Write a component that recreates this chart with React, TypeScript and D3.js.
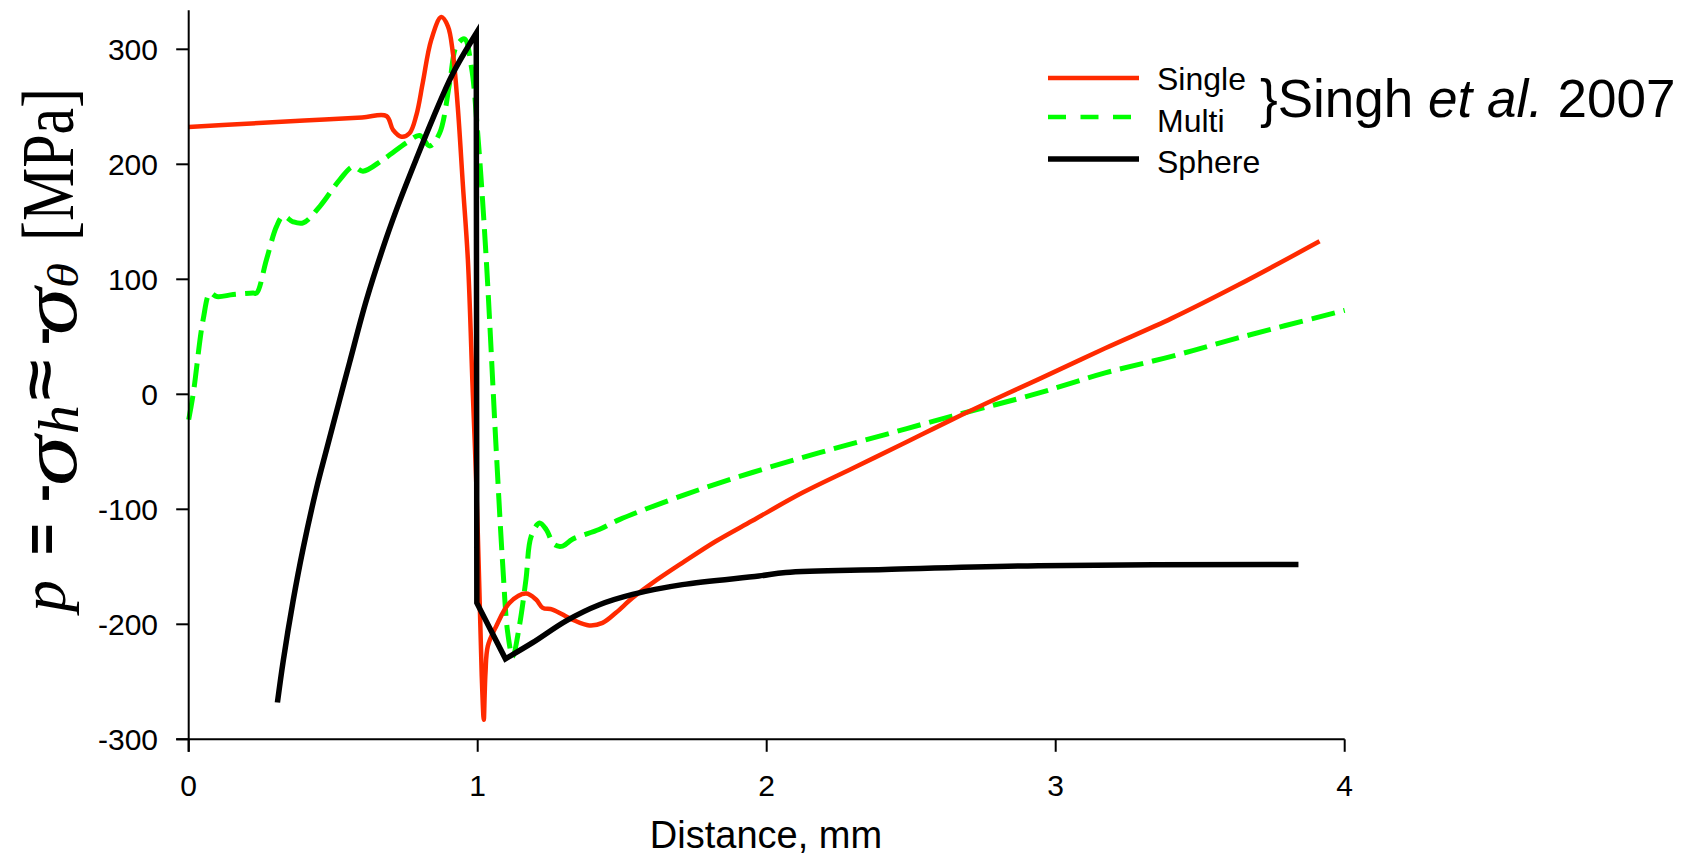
import React from 'react';
import * as d3 from 'd3';

const xTicks = [0, 1, 2, 3, 4];
const yTicks = [-300, -200, -100, 0, 100, 200, 300];
const yTickLabels = ['-300', '-200', '-100', '0', '100', '200', '300'];

const singleX = [0, 0.2, 0.4, 0.6, 0.684, 0.707, 0.736, 0.764, 0.788, 0.81, 0.839, 0.874, 0.897, 0.914, 0.931, 0.949, 0.966, 0.983, 0.995, 1.006, 1.014, 1.021, 1.024, 1.027, 1.035, 1.064, 1.11, 1.167, 1.202, 1.225, 1.259, 1.328, 1.386, 1.432, 1.478, 1.536, 1.605, 1.708, 1.824, 1.95, 2.123, 2.296, 2.468, 2.641, 2.814, 2.94, 3.171, 3.401, 3.631, 3.913];
const singleY = [232.5, 235.3, 238.1, 240.8, 242, 230, 224, 227, 243, 271, 308, 328, 320, 297, 250, 181, 117, 1.5, -77, -172, -245, -283, -262, -242, -219, -201.7, -181.4, -173.3, -178.5, -185.7, -187.2, -196, -201, -198.8, -190, -177, -164, -146.6, -127.8, -110, -85.7, -64.5, -43.5, -22, -1.5, 13, 40, 66, 95, 133];

const multiX = [0, 0.016, 0.05, 0.074, 0.097, 0.154, 0.223, 0.235, 0.269, 0.304, 0.327, 0.361, 0.396, 0.454, 0.523, 0.569, 0.603, 0.672, 0.753, 0.799, 0.834, 0.868, 0.903, 0.926, 0.954, 0.978, 1.0, 1.029, 1.064, 1.087, 1.104, 1.121, 1.144, 1.167, 1.185, 1.214, 1.237, 1.265, 1.294, 1.328, 1.42, 1.49, 1.72, 1.95, 2.18, 2.41, 2.641, 2.94, 3.171, 3.401, 3.631, 4.0];
const multiY = [-22, 1, 65, 88, 85, 86.7, 88, 88, 117, 146, 155, 150, 149, 163.5, 186.7, 198, 194, 204, 218.6, 225, 216, 227, 270.8, 302.6, 309, 285, 227, 120, -48, -150, -207.5, -228, -201.7, -161, -123.5, -112, -117.6, -130.7, -132, -126, -117.6, -109, -87, -68, -51, -35, -19, 1, 18.6, 33, 49, 73];

// Sphere: rising branch, drop at the interface, decaying branch
const sphereRiseX = [0.307, 0.327, 0.361, 0.396, 0.442, 0.477, 0.52, 0.557, 0.615, 0.684, 0.73, 0.788, 0.845, 0.914, 0.995];
const sphereRiseY = [-268, -232, -180, -134, -82, -48, -7, 28, 82, 136, 168, 205, 240, 279, 314];
const sphereDropX = [0.995, 0.997, 1.096];
const sphereDropY = [314, -181.4, -230];
const sphereTailX = [1.096, 1.19, 1.306, 1.421, 1.536, 1.708, 1.973, 2.066, 2.41, 2.94, 3.84];
const sphereTailY = [-230, -216, -197, -183, -174, -165.5, -158, -155, -152.4, -149, -148];

const legendLabels = ['Single', 'Multi', 'Sphere'];
const colors = ['#ff2a00', '#00ff00', '#000000'];

const SANS = 'Liberation Sans, Arial, sans-serif';
const SERIF = 'Liberation Serif, Times New Roman, serif';

type Part = { t: string; y0: number; bx: number; fs: number; fam: string; it?: boolean; bold?: boolean; len?: number };
const labelParts: Part[] = [
  { t: 'p', y0: 612, bx: 65, fs: 64, fam: SERIF, it: true },
  { t: '=', y0: 555, bx: 60, fs: 54, fam: SANS, bold: true },
  { t: '-', y0: 502, bx: 60, fs: 54, fam: SANS, bold: true },
  { t: 'σ', y0: 486, bx: 76, fs: 80, fam: SERIF, it: true, len: 50 },
  { t: 'h', y0: 434, bx: 78, fs: 58, fam: SERIF, it: true, len: 29 },
  { t: '≈', y0: 400, bx: 58, fs: 54, fam: SANS, bold: true, len: 40 },
  { t: '-', y0: 345, bx: 60, fs: 54, fam: SANS, bold: true },
  { t: 'σ', y0: 335, bx: 76, fs: 80, fam: SERIF, it: true, len: 47 },
  { t: 'θ', y0: 288, bx: 78, fs: 44, fam: SERIF, it: true, len: 25 },
  { t: '[MPa]', y0: 241, bx: 73, fs: 74, fam: SERIF, len: 153 },
];

export default function App() {
  const x = d3.scaleLinear().domain([0, 4]).range([188.7, 1344.7]);
  const y = d3.scaleLinear().domain([-300, 300]).range([739.3, 49.3]);
  const yTopVal = 334;

  const toPts = (xs: number[], ys: number[]) => xs.map((v, i) => [v, ys[i]] as [number, number]);
  const smooth = d3.line<[number, number]>().x(d => x(d[0])).y(d => y(d[1])).curve(d3.curveCatmullRom.alpha(0.5));
  const lin = d3.line<[number, number]>().x(d => x(d[0])).y(d => y(d[1]));

  const sphereD = (smooth(toPts(sphereRiseX, sphereRiseY)) || '') +
    (lin(toPts(sphereDropX, sphereDropY)) || '').replace(/^M/, 'L') +
    (smooth(toPts(sphereTailX, sphereTailY)) || '').replace(/^M[^CL]*/, '');

  const x0 = x(0);
  const yBase = y(-300);

  return (
    <svg width={1700} height={860} style={{ position: 'absolute', left: 0, top: 0, background: '#fff' }}>
      {/* series */}
      <path d={smooth(toPts(multiX, multiY)) || ''} fill="none" stroke={colors[1]} strokeWidth={5} strokeDasharray="24 9" />
      <path d={smooth(toPts(singleX, singleY)) || ''} fill="none" stroke={colors[0]} strokeWidth={4.5} strokeLinejoin="round" />
      <path d={sphereD} fill="none" stroke={colors[2]} strokeWidth={5.5} strokeLinejoin="miter" strokeMiterlimit={10} />

      {/* axes */}
      <line x1={x0} x2={x0} y1={y(yTopVal)} y2={yBase + 12.5} stroke="#000" strokeWidth={2} />
      <line x1={x0 - 12.5} x2={x(4)} y1={yBase} y2={yBase} stroke="#000" strokeWidth={2} />
      {yTicks.map((t, i) => (
        <g key={'yt' + t}>
          <line x1={x0 - 12.5} x2={x0} y1={y(t)} y2={y(t)} stroke="#000" strokeWidth={2} />
          <text x={158} y={y(t)} dy="0.36em" textAnchor="end" fontFamily={SANS} fontSize={30}>{yTickLabels[i]}</text>
        </g>
      ))}
      {xTicks.map(t => (
        <g key={'xt' + t}>
          <line x1={x(t)} x2={x(t)} y1={yBase} y2={yBase + 12.5} stroke="#000" strokeWidth={2} />
          <text x={x(t)} y={796} textAnchor="middle" fontFamily={SANS} fontSize={30}>{String(t)}</text>
        </g>
      ))}
      <text x={766} y={848} textAnchor="middle" fontFamily={SANS} fontSize={38}>Distance, mm</text>

      {/* y label, built piece by piece */}
      {labelParts.map((p, i) => (
        <text key={'yl' + i} transform={`translate(${p.bx},${p.y0}) rotate(-90)`} fontFamily={p.fam} fontSize={p.fs}
          fontStyle={p.it ? 'italic' : 'normal'} fontWeight={p.bold ? 'bold' : 'normal'}
          textLength={p.len} lengthAdjust={p.len ? 'spacingAndGlyphs' : undefined}>{p.t}</text>
      ))}

      {/* legend */}
      {legendLabels.map((lab, i) => {
        const ly = [78, 117, 159][i];
        const ty = [90, 132, 173][i];
        return (
          <g key={lab}>
            <line x1={1048} x2={1139} y1={ly} y2={ly} stroke={colors[i]} strokeWidth={i === 2 ? 5.5 : 4.7}
              strokeDasharray={i === 1 ? '18 14.5' : undefined} />
            <text x={1157} y={ty} fontFamily={SANS} fontSize={32}>{lab}</text>
          </g>
        );
      })}
      <text x={1260} y={117} fontFamily={SANS} fontSize={53}>
        {'}Singh '}<tspan fontStyle="italic">et al.</tspan>{' 2007'}
      </text>
    </svg>
  );
}
